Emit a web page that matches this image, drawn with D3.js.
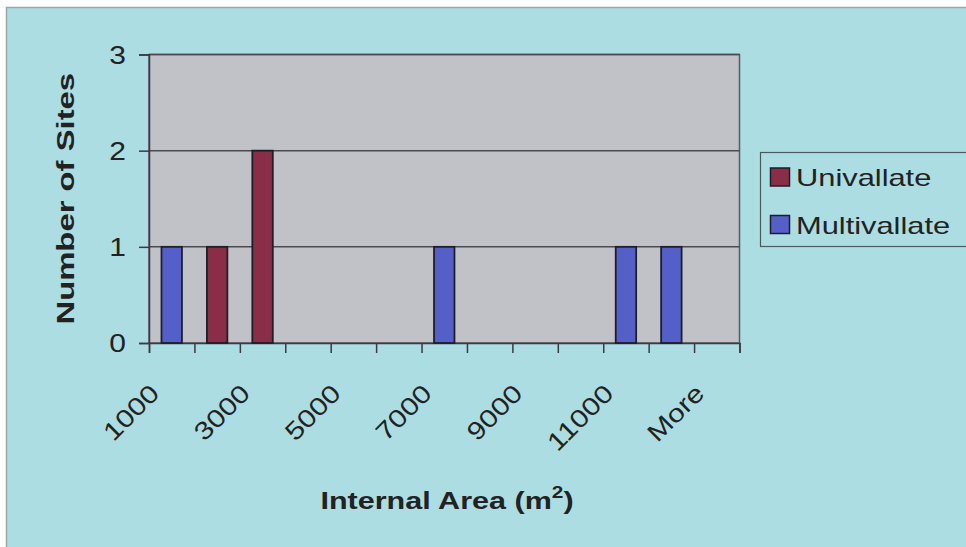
<!DOCTYPE html>
<html>
<head>
<meta charset="utf-8">
<script src="https://cdn.jsdelivr.net/npm/d3@7"></script>
<style>
  html, body { margin: 0; padding: 0; background: #ffffff; }
  svg { display: block; }
  text { font-family: "Liberation Sans", Arial, sans-serif; fill: #222222; }
</style>
</head>
<body>
<svg id="chart" width="966" height="547"></svg>
<script>
// Histogram bins (upper edge of internal area, m²)
const categories = ["1000", "2000", "3000", "4000", "5000", "6000", "7000",
                    "8000", "9000", "10000", "11000", "12000", "More"];
const univallate   = [0, 1, 2, 0, 0, 0, 0, 0, 0, 0, 0, 0, 0];
const multivallate = [1, 0, 0, 0, 0, 0, 1, 0, 0, 0, 1, 1, 0];
const seriesNames  = ["Univallate", "Multivallate"];
const yTicks = [0, 1, 2, 3];

const colors = { Univallate: "#8a2e48", Multivallate: "#5460c8" };

const svg = d3.select("#chart");
const W = 966, H = 547;

// chart area background
svg.append("rect").attr("x", 6.5).attr("y", 7.5)
  .attr("width", W).attr("height", H)
  .attr("fill", "#acdde3").attr("stroke", "#9aa6a8").attr("stroke-width", 1.5);

const plot = { left: 149, right: 739.5, top: 54.5, bottom: 343 };

const x = d3.scaleBand().domain(categories)
  .range([plot.left, plot.right]).paddingInner(0).paddingOuter(0);
const xEdge = d3.scaleLinear().domain([0, categories.length])
  .range([plot.left, plot.right]);
const y = d3.scaleLinear().domain([0, 3]).range([plot.bottom, plot.top]);

// plot area
svg.append("rect")
  .attr("x", plot.left).attr("y", plot.top)
  .attr("width", plot.right - plot.left).attr("height", plot.bottom - plot.top)
  .attr("fill", "#c1c1c8").attr("stroke", "#5a5a60").attr("stroke-width", 1.5);

// gridlines
svg.append("g").selectAll("line").data(yTicks.filter(d => d > 0)).join("line")
  .attr("x1", plot.left).attr("x2", plot.right)
  .attr("y1", d => y(d)).attr("y2", d => y(d))
  .attr("stroke", "#4a4a50").attr("stroke-width", 1.5);

// helper: horizontally stretched text placed by a transform
const S = 1.2;
function stretched(g, str, tx, ty, rot, scale, size, weight, anchor) {
  return g.append("text")
    .attr("transform", `translate(${tx},${ty}) rotate(${rot}) scale(${scale},1)`)
    .attr("text-anchor", anchor)
    .attr("font-size", size)
    .attr("font-weight", weight)
    .text(str);
}

// y axis
const yAxis = svg.append("g").attr("transform", `translate(${plot.left},0)`)
  .call(d3.axisLeft(y).tickValues(yTicks).tickSize(10).tickFormat(""));
yAxis.select(".domain").attr("stroke", "#3a3a40").attr("stroke-width", 1.5);
yAxis.selectAll(".tick line").attr("stroke", "#3a3a40").attr("stroke-width", 1.5);
const yLab = svg.append("g");
yTicks.forEach(v => {
  stretched(yLab, String(v), 126, y(v) + 9, 0, S, 25, "normal", "end");
});

// x axis: tick marks at bin edges
const xAxis = svg.append("g").attr("transform", `translate(0,${plot.bottom})`)
  .call(d3.axisBottom(xEdge).tickValues(d3.range(categories.length + 1))
    .tickSize(10).tickFormat(""));
xAxis.select(".domain").attr("stroke", "#3a3a40").attr("stroke-width", 1.5);
xAxis.selectAll(".tick line").attr("stroke", "#3a3a40").attr("stroke-width", 1.5);

// x labels on every other bin, rotated
const xLab = svg.append("g");
categories.forEach((c, i) => {
  if (i % 2 !== 0) return;
  const cx = x(c) + x.bandwidth() / 2;
  stretched(xLab, c, cx - 11, plot.bottom + 52, -45, S, 25, "normal", "end");
});

// bars (both series share the bin position)
const barW = x.bandwidth() * 0.45;
const bars = [];
categories.forEach((c, i) => {
  if (univallate[i] > 0) bars.push({ c, v: univallate[i], s: "Univallate" });
  if (multivallate[i] > 0) bars.push({ c, v: multivallate[i], s: "Multivallate" });
});
svg.append("g").selectAll("rect").data(bars).join("rect")
  .attr("x", d => x(d.c) + (x.bandwidth() - barW) / 2)
  .attr("y", d => y(d.v))
  .attr("width", barW)
  .attr("height", d => y(0) - y(d.v))
  .attr("fill", d => colors[d.s])
  .attr("stroke", "#1e1e28").attr("stroke-width", 1.8);

// axis titles
svg.append("text")
  .attr("transform", `translate(74,${(plot.top + plot.bottom) / 2}) rotate(-90) scale(1.34,1)`)
  .attr("text-anchor", "middle").attr("font-size", 24.5).attr("font-weight", "bold")
  .text("Number of Sites");

const xt = svg.append("text")
  .attr("transform", `translate(447,509) scale(1.3,1)`)
  .attr("text-anchor", "middle").attr("font-size", 23.5).attr("font-weight", "bold");
xt.append("tspan").text("Internal Area (m");
xt.append("tspan").attr("font-size", 16).attr("dy", -11).text("2");
xt.append("tspan").attr("dy", 11).text(")");

// legend
const lg = svg.append("g");
lg.append("rect").attr("x", 760.5).attr("y", 152.5).attr("width", 210).attr("height", 94)
  .attr("fill", "none").attr("stroke", "#4a5a5c").attr("stroke-width", 1.2);
seriesNames.forEach((s, i) => {
  const yy = 168 + i * 47.5;
  lg.append("rect").attr("x", 770.5).attr("y", yy).attr("width", 19).attr("height", 18)
    .attr("fill", colors[s]).attr("stroke", "#1e1e28").attr("stroke-width", 1.5);
  stretched(lg, s, 796, yy + 18, 0, 1.34, 23, "normal", "start");
});
</script>
</body>
</html>
